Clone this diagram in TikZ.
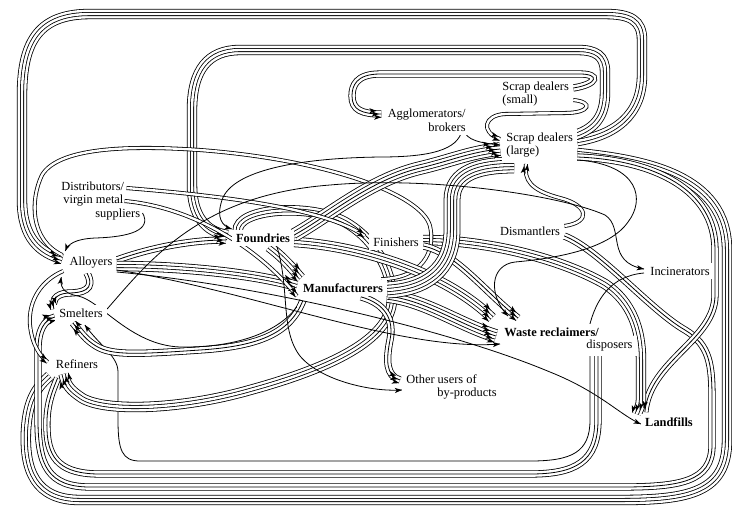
\documentclass[tikz,border=0pt]{standalone}
\usepackage{fontspec}
\setmainfont{Liberation Serif}
\usepackage{tikz}
\usetikzlibrary{decorations.markings,backgrounds}

\tikzset{
  tips/.style={postaction={decorate,decoration={markings,
    mark=at position 1 with {\foreach \dy/\dx in {#1} {\fill[black] (\dx pt,\dy pt) -- ++(-3.6pt,1.3pt) -- ++(0.9pt,-1.3pt) -- ++(-0.9pt,-1.3pt) -- cycle;}}}}},
  f1/.style={draw=black,line width=0.4pt,tips={0/0}},
  f2/.style={draw=white,line width=1.2pt,preaction={draw=black,line width=2pt},tips={-0.8/0,0.8/-1.2}},
  f3/.style={draw=black,line width=0.4pt,preaction={draw=black,line width=3.6pt},preaction={draw=white,line width=2.8pt},tips={-1.6/0,0/-1.2,1.6/-2.4}},
  f4/.style={draw=white,line width=1.2pt,preaction={draw=black,line width=5.2pt},preaction={draw=white,line width=4.4pt},preaction={draw=black,line width=2pt},tips={-2.4/0,-0.8/-1.2,0.8/-2.4,2.4/-3.6}},
  f5/.style={draw=black,line width=0.4pt,preaction={draw=black,line width=6.8pt},preaction={draw=white,line width=6pt},preaction={draw=black,line width=3.6pt},preaction={draw=white,line width=2.8pt},tips={-3.2/0,-1.6/-1.2,0/-2.4,1.6/-3.6,3.2/-4.8}},
  f6/.style={draw=white,line width=1.2pt,preaction={draw=black,line width=8.4pt},preaction={draw=white,line width=7.6pt},preaction={draw=black,line width=5.2pt},preaction={draw=white,line width=4.4pt},preaction={draw=black,line width=2pt},tips={-4/0,-2.4/-1.2,-0.8/-2.4,0.8/-3.6,2.4/-4.8,4/-6}},
}

\begin{document}
\begin{tikzpicture}[x=0.5pt,y=-0.5pt,line join=round,
  every node/.style={font=\fontsize{6.2}{6.8}\selectfont,inner sep=2pt,fill=white}]
\useasboundingbox (0,0) rectangle (732,510);

% places
\node (sds) [anchor=west,align=left] at (498,94) {Scrap dealers\\(small)};
\node (agg) [anchor=east,align=right] at (470,120) {Agglomerators/\\brokers};
\node (sdl) [anchor=west,align=left] at (502,145) {Scrap dealers\\(large)};
\node (dist) [anchor=west,align=left,fill=none] at (57,201) {Distributors/\\\hspace*{1pt}virgin metal\\\hspace*{17pt}suppliers};
\node (fnd) at (263,238) {\textbf{Foundries}};
\node (fin) at (396,242) {Finishers};
\node (man) at (343,288) {\textbf{Manufacturers}};
\node (dis) at (530,231) {Dismantlers};
\node (all) at (91,263) {Alloyers};
\node (sme) at (81,313) {Smelters};
\node (ref) at (77,364) {Refiners};
\node (inc) at (680,271) {Incinerators};
\node (wr) [anchor=west] at (500,332) {\textbf{Waste reclaimers/}};
\node (wr2) [anchor=west] at (582,346) {disposers};
\node (oth) [anchor=west,align=left] at (402,387) {Other users of\\\hspace*{15.5pt}by-products};
\node (lnd) at (669,422) {\textbf{Landfills}};

\begin{pgfonlayer}{background}
\fill[white] (0,0) rectangle (732,510);

% long loops round the edge
\draw[f4] ([shift={(0,8)}]sdl.east) .. controls (645,160) and (727,175) .. (727,250) -- (727,440) .. controls (727,492) and (690,500) .. (620,500) -- (80,500) .. controls (35,500) and (24,470) .. (26,430) .. controls (28,400) and (36,388) .. ([shift={(-2,12)}]ref.west);
\draw[f3] ([shift={(0,5)}]dis.east) .. controls (600,250) and (650,310) .. (685,330) .. controls (710,345) and (712,365) .. (712,400) -- (712,445) .. controls (712,482) and (680,487) .. (620,487) -- (90,487) .. controls (48,487) and (38,465) .. (38,420) -- (38,350) .. controls (38,330) and (44,320) .. ([shift={(0,4)}]sme.west);
\draw[f3] ([shift={(16,0)}]wr2.south west) -- (598,420) .. controls (598,462) and (575,474) .. (530,474) -- (100,474) .. controls (62,474) and (48,460) .. (47,430) .. controls (46,405) and (52,392) .. ([shift={(6,14)}]ref.west);
\draw[f1] ([shift={(8,0)}]wr2.south west) -- (590,420) .. controls (590,452) and (572,461) .. (530,461) -- (140,461) .. controls (122,461) and (118,450) .. (118,420) -- (118,372) .. controls (118,356) and (100,346) .. ([shift={(30,12)}]sme.west);
\draw[f4] ([shift={(0,-4)}]sdl.east) .. controls (615,135) and (642,115) .. (642,75) -- (642,40) .. controls (642,20) and (630,14) .. (605,14) -- (90,14) .. controls (40,14) and (22,40) .. (22,95) -- (22,200) .. controls (22,238) and (40,253) .. ([shift={(-3,-4)}]all.west);
\draw[f4] ([shift={(-2,-10)}]sdl.east) .. controls (596,128) and (605,115) .. (605,92) -- (605,72) .. controls (605,56) and (596,50) .. (578,50) -- (240,50) .. controls (208,50) and (192,70) .. (192,110) -- (192,185) .. controls (192,215) and (205,232) .. ([shift={(-4,-3)}]fnd.west);
\draw[f3] ([shift={(0,-6)}]sds.east) .. controls (598,84) and (600,74) .. (580,74) -- (380,74) .. controls (356,74) and (352,86) .. (352,96) .. controls (352,110) and (362,114) .. ([shift={(-2,-6)}]agg.west);
\draw[f2] ([shift={(0,6)}]sds.east) .. controls (594,102) and (590,113) .. (565,113) -- (505,114) .. controls (484,115) and (480,132) .. ([shift={(-2,-6)}]sdl.west);
\draw[f3] ([shift={(0,12)}]sdl.east) .. controls (655,160) and (715,190) .. (715,250) -- (715,295) .. controls (715,340) and (650,360) .. ([shift={(4,-10)}]lnd.west);

% middle
\draw[f4] ([shift={(6,2)}]fnd.north west) .. controls (236,208) and (310,203) .. (345,222) .. controls (370,236) and (392,265) .. (392,300) .. controls (390,340) and (330,368) .. (250,390) .. controls (180,410) and (105,412) .. (82,398) .. controls (70,390) and (66,385) .. ([shift={(12,10)}]ref.west);
\draw[f4] ([shift={(0,-2)}]fin.east) .. controls (485,240) and (560,258) .. (605,284) .. controls (632,302) and (641,330) .. (641,360) -- (641,400) .. controls (641,406) and (638,410) .. ([shift={(-4,-8)}]lnd.west);
\draw[f2] ([shift={(-6,0)}]man.north east) .. controls (422,278) and (436,252) .. (430,226) .. controls (422,195) and (330,160) .. (200,150) .. controls (140,146) and (60,145) .. (42,175) .. controls (30,200) and (30,240) .. ([shift={(-3,-8)}]all.west);
\draw[f4] ([shift={(0,4)}]fnd.east) .. controls (360,246) and (445,272) .. ([shift={(-8,-14)}]wr.west);
\draw[f3] ([shift={(0,4)}]fin.east) .. controls (455,252) and (485,292) .. ([shift={(18,-14)}]wr.west);
\draw[f5] ([shift={(0,8)}]man.east) .. controls (425,300) and (460,325) .. ([shift={(-4,4)}]wr.west);
\draw[f6] ([shift={(0,2)}]man.east) .. controls (425,288) and (452,270) .. (452,230) -- (452,200) .. controls (452,172) and (480,165) .. ([shift={(12,20)}]sdl.west);
\draw[f5] ([shift={(0,-3)}]fnd.east) .. controls (330,215) and (370,180) .. (420,168) .. controls (450,161) and (470,152) .. ([shift={(-2,4)}]sdl.west);
\draw[f2] ([shift={(0,-5)}]dis.east) .. controls (592,222) and (588,205) .. (560,198) .. controls (530,190) and (524,180) .. ([shift={(24,19)}]sdl.west);
\draw[f3] ([shift={(18,0)}]man.south) .. controls (386,304) and (394,320) .. (390,340) .. controls (386,360) and (386,376) .. ([shift={(-2,-7)}]oth.west);
\draw[f4] ([shift={(6,0)}]fnd.south) .. controls (284,258) and (292,268) .. ([shift={(2,-10)}]man.west);
\draw[f3] ([shift={(4,4)}]man.south west) .. controls (290,332) and (262,346) .. (200,350) .. controls (140,354) and (112,356) .. (96,346) .. controls (86,340) and (82,334) .. ([shift={(18,10)}]sme.west);

% left side
\draw[f3] ([shift={(0,-3)}]all.east) .. controls (150,248) and (190,240) .. ([shift={(-6,2)}]fnd.west);
\draw[f4] ([shift={(0,3)}]all.east) .. controls (170,266) and (250,272) .. ([shift={(-2,-2)}]man.west);
\draw[f3] ([shift={(-4,0)}]all.south) .. controls (96,290) and (82,293) .. (68,293) .. controls (54,294) and (52,302) .. ([shift={(-1,-4)}]sme.west);
\draw[f2] ([shift={(-2,8)}]all.west) .. controls (42,280) and (28,300) .. (30,325) .. controls (32,345) and (40,356) .. ([shift={(-4,-2)}]ref.west);
\draw[f2] ([shift={(-18,-13)}]dist.east) .. controls (250,198) and (330,212) .. ([shift={(-4,-6)}]fin.west);
\draw[f2] ([shift={(-20,0)}]dist.east) .. controls (200,208) and (265,255) .. ([shift={(-2,8)}]man.west);

% single lines
\draw[f1] ([shift={(-2,12)}]dist.east) .. controls (152,230) and (130,237) .. (95,238) .. controls (75,239) and (68,244) .. ([shift={(0,-2)}]all.north west);
\draw[f1] ([shift={(-6,10)}]agg.east) .. controls (466,140) and (480,143) .. ([shift={(-2,0)}]sdl.west);
\draw[f1] ([shift={(-8,10)}]agg.east) .. controls (458,150) and (430,157) .. (380,157) .. controls (300,158) and (232,170) .. (222,200) .. controls (216,218) and (222,226) .. ([shift={(0,-9)}]fnd.west);
\draw[f1] ([shift={(14,0)}]fnd.south) .. controls (290,290) and (280,330) .. (300,356) .. controls (320,380) and (370,392) .. ([shift={(0,3)}]oth.west);
\draw[f1] ([shift={(0,7)}]all.east) .. controls (250,290) and (400,352) .. ([shift={(0,12)}]wr.west);
\draw[f1] ([shift={(0,9)}]all.east) .. controls (260,285) and (450,330) .. (550,372) .. controls (600,392) and (620,415) .. ([shift={(0,2)}]lnd.west);
\draw[f1] ([shift={(-2,10)}]man.south west) .. controls (280,330) and (240,348) .. (180,347) .. controls (130,345) and (100,300) .. (78,296) .. controls (62,293) and (60,286) .. ([shift={(-4,4)}]all.south west);
\draw[f1] ([shift={(0,-4)}]sme.east) .. controls (150,260) and (200,195) .. (330,185) .. controls (430,176) and (560,195) .. (605,215) .. controls (625,228) and (605,262) .. ([shift={(-2,-2)}]inc.west);
\draw[f1] ([shift={(-14,-6)}]wr.east) .. controls (596,300) and (610,276) .. ([shift={(-2,2)}]inc.west);
\draw[f1] ([shift={(0,-2)}]sdl.south east) .. controls (640,165) and (645,200) .. (628,222) .. controls (610,248) and (560,258) .. (515,262) .. controls (490,265) and (488,295) .. ([shift={(8,-16)}]wr.west);
\end{pgfonlayer}
\end{tikzpicture}
\end{document}
